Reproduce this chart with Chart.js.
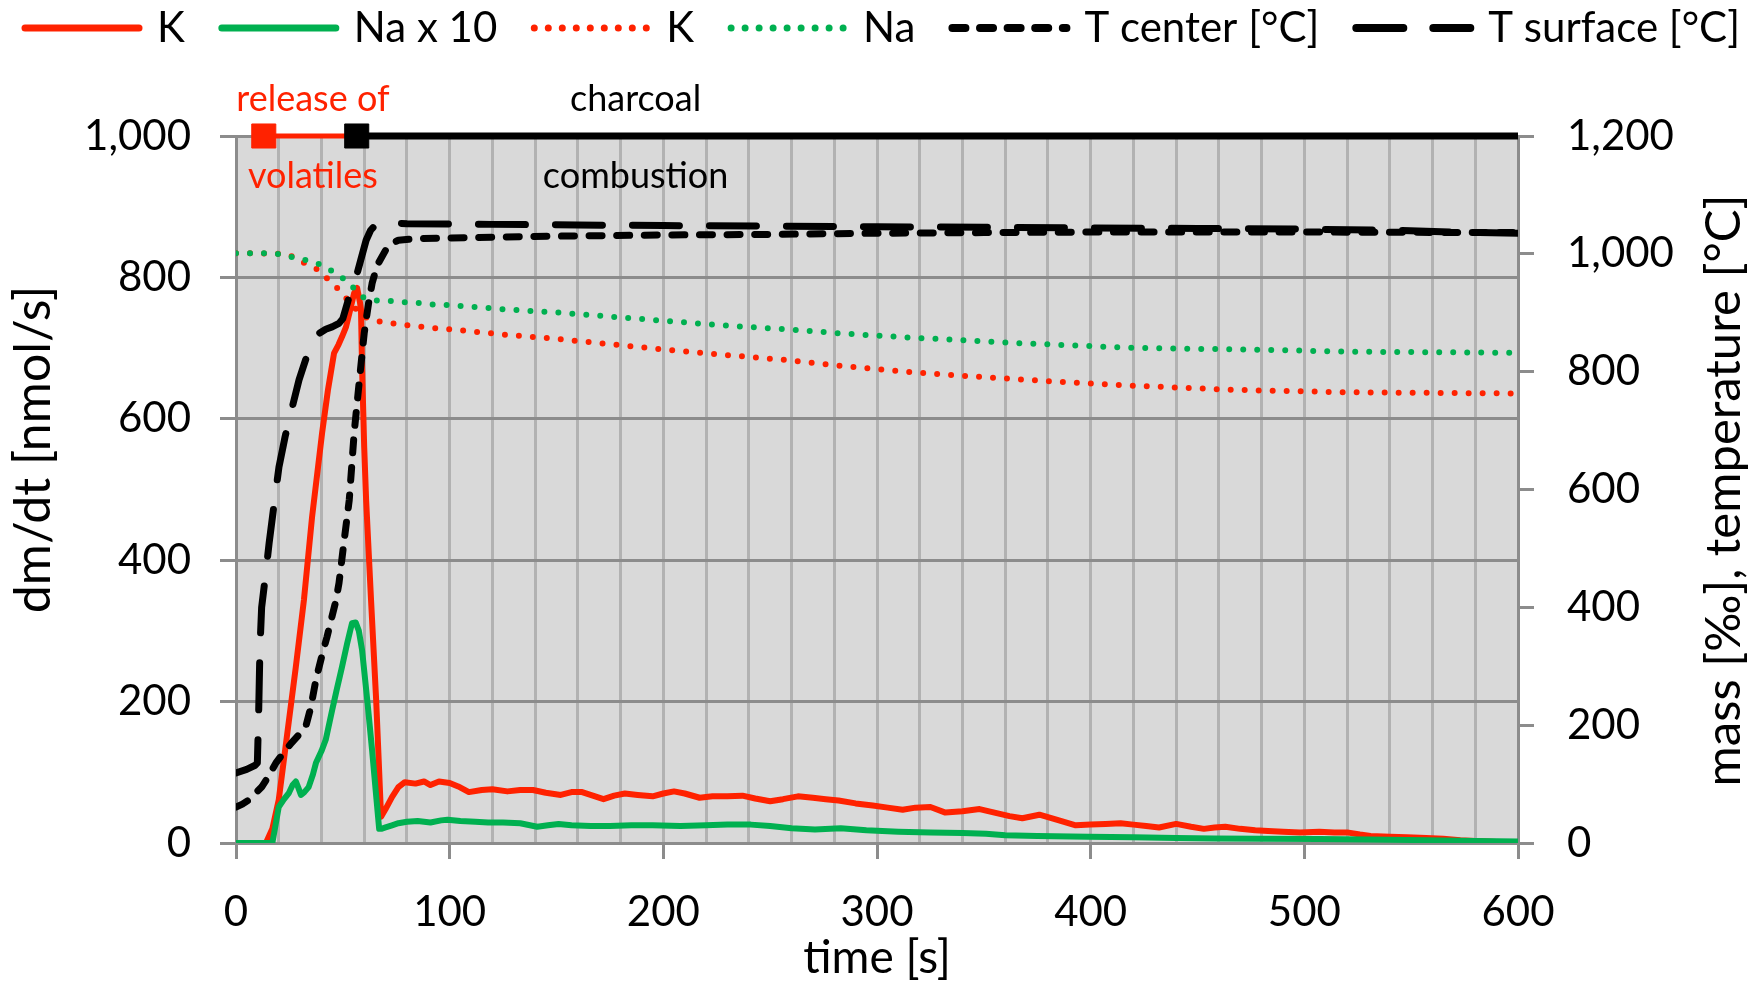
<!DOCTYPE html>
<html lang="pt-BR">
<head>
<meta charset="UTF-8">
<title>Liberação de K e Na</title>
<script src="https://cdn.jsdelivr.net/npm/chart.js@4.4.1/dist/chart.umd.min.js"></script>
<style>
    html, body { margin: 0; padding: 0; background: #ffffff; }
    #grafico-wrap { width: 1761px; height: 981px; }
</style>
</head>
<body>
<div id="grafico-wrap">
    <canvas id="grafico-liberacao" width="1761" height="981"></canvas>
</div>
<script>
// Dados (tempo em s)

// Taxa de liberação de K - eixo esquerdo [nmol/s]
const tempoTaxaK = [0, 14, 17, 20, 23.4, 28, 31.8, 35.6, 40.3, 43, 45.9, 48, 49.6, 51.5, 53.5, 55.3, 56.7, 58, 58.5, 59,
    60, 60.9, 63.2, 65.6, 67.9, 70, 73, 76, 79, 84, 88, 91, 95, 100, 104, 109, 115, 120, 127, 133,
    139, 145, 152, 157, 162, 167, 172, 177, 182, 188, 195, 200, 205, 210, 217, 223, 230, 237, 243, 250,
    256, 263, 270, 276, 282, 290, 298, 305, 312, 318, 325, 332, 340, 348, 355, 362, 368, 376, 384, 393,
    400, 407, 414, 420, 426, 432, 440, 447, 453, 458, 463, 470, 477, 483, 490, 498, 507, 514, 520, 526,
    531, 540, 548, 557, 565, 573, 580, 590, 600];
const taxaK = [0, 0, 20, 61, 141, 249, 344, 461, 580, 640, 693, 705, 716, 730, 755, 778, 785, 765, 754, 673,
    560, 485, 344, 202, 37, 48, 65, 79, 86, 84, 87, 82, 87, 85, 80, 72, 75, 76, 73, 75,
    75, 71, 68, 72, 72, 67, 62, 67, 70, 68, 66, 70, 73, 70, 64, 66, 66, 67, 63, 59,
    62, 66, 64, 62, 60, 56, 53, 50, 47, 50, 51, 43, 45, 48, 43, 38, 35, 40, 33, 25,
    26, 27, 28, 26, 24, 22, 27, 23, 20, 22, 23, 20, 18, 17, 16, 15, 16, 15, 15, 12,
    10, 9, 8, 7, 6, 4, 3, 1.5, 1];

// Taxa de liberação de Na x 10 - eixo esquerdo [nmol/s]
const tempoTaxaNa = [0, 17, 18.5, 20, 22.5, 24.8, 26.5, 28, 29.2, 30.4, 32, 34, 36, 37.4, 40, 42, 45, 47, 49.6, 52,
    54.3, 56, 57.5, 59, 61.5, 63.7, 65.5, 67, 68, 70, 73, 76, 80, 85, 91, 96, 99, 105, 112, 118,
    125, 133, 141, 146, 151, 157, 166, 175, 185, 195, 208, 220, 230, 241, 250, 260, 271, 283, 295, 310,
    325, 340, 351, 360, 375, 399, 420, 440, 458, 480, 507, 530, 557, 580, 600];
const taxaNa = [0, 0, 25, 51, 62, 71, 82, 87, 78, 68, 72, 79, 97, 113, 130, 146, 188, 215, 249, 282,
    311, 312, 300, 273, 200, 131, 70, 20, 20, 22, 25, 28, 30, 31, 29, 32, 33, 31, 30, 29,
    29, 28, 23, 25, 27, 25, 24, 24, 25, 25, 24, 25, 26, 26, 24, 21, 19, 21, 18, 16,
    15, 14, 13, 11, 10, 9, 8, 7, 6.5, 6, 5.5, 5, 4, 3, 2];

// Massa remanescente de K - eixo direito [‰]
const tempoMassaK = [0, 10, 20, 25, 31, 37.5, 42.7, 47.4, 51.5, 55.3, 58, 61.4, 65, 67.9, 75, 80, 92.7, 100,
    125, 152, 180, 205, 230, 257, 283, 310, 336, 362, 389, 415, 441, 468, 494, 520, 560, 600];
const massaK = [1001, 1001, 1000, 998, 986, 975, 958, 942, 925, 910, 898, 891, 886, 885, 881, 879, 874, 872,
    863, 855, 845, 836, 828, 820, 810, 801, 794, 788, 782, 777, 773, 769, 767, 765, 764, 763];

// Massa remanescente de Na - eixo direito [‰]
const tempoMassaNa = [0, 12, 19, 25.6, 32, 38, 44.3, 49.6, 54.5, 59.2, 62, 65.6, 72.5, 78.6, 84.8, 92, 100,
    125, 152, 180, 205, 230, 257, 283, 310, 336, 362, 389, 415, 441, 468, 494, 520, 560, 600];
const massaNa = [1001, 1001, 1000, 995, 990, 984, 972, 960, 944, 927, 923, 921, 920, 918, 917, 914, 913,
    906, 900, 892, 885, 878, 872, 865, 859, 854, 849, 845, 841, 839, 838, 836, 834, 833, 832];

// Temperatura no centro - eixo direito [°C]
const tempoTCentro = [0, 3, 6, 9, 12, 15, 18.7, 22, 26, 29, 32.6, 35, 37.4, 40, 42.6, 46.8, 48.2, 50.5, 53,
    55.3, 57.6, 60, 62, 63.7, 66, 70, 73, 76, 85, 100, 150, 200, 250, 300, 350, 400, 500, 600];
const tCentro = [61, 66, 73, 84, 95, 112, 136, 152, 170, 182, 197, 230, 277, 315, 350, 412, 441, 510, 582,
    696, 780, 865, 915, 950, 980, 1006, 1018, 1023, 1026, 1027, 1030, 1032, 1033, 1035, 1036, 1037, 1037, 1036];

// Temperatura na superfície - eixo direito [°C]
const tempoTSuperficie = [0, 5, 9, 10, 10.6, 11.2, 12, 14, 15.5, 18, 20.1, 23, 26, 29.5, 33, 36, 38.9, 42, 45,
    48.2, 50, 52, 54, 56.7, 58.8, 60.9, 63, 65, 67, 72, 80, 120, 160, 200, 250, 300, 350, 400, 450, 500,
    540, 570, 600];
const tSuperficie = [119, 125, 132, 136, 220, 330, 400, 460, 509, 580, 638, 690, 735, 786, 825, 848, 865, 872, 876,
    882, 890, 915, 940, 967, 995, 1023, 1040, 1048, 1052, 1053, 1051, 1050, 1049, 1048, 1047, 1046, 1045, 1044, 1043, 1042,
    1040, 1037, 1035];

// Fases da combustão (marcadores no topo, em 1,000 nmol/s)
const tempoVolateis = [13, 56.5];
const tempoCarvao = [56.5, 600];
const nivelFases = 1000;

// Textos das fases
const textosFases = [
    { texto: 'release of', tempo: 36, dy: -37, cor: '#ff2200' },
    { texto: 'volatiles', tempo: 36, dy: 40, cor: '#ff2200' },
    { texto: 'charcoal', tempo: 187, dy: -37, cor: '#000000' },
    { texto: 'combustion', tempo: 187, dy: 40, cor: '#000000' }
];

// Títulos dos eixos verticais (os dois lidos de baixo para cima)
const tituloEsquerdo = 'dm/dt [nmol/s]';
const tituloDireito = 'mass [‰], temperature [°C]';

const VERMELHO = '#ff2200';
const VERDE = '#00b050';
const CINZA_GRADE = '#8c8c8c';
const CINZA_VERTICAL = '#b2b2b2';

// Junta tempo e valor em pontos {x, y}
function montarPontos(tempos, valores) {
    return tempos.map((t, i) => ({ x: t, y: valores[i] }));
}

// Plugin: fundo cinza da área do gráfico
const fundoArea = {
    id: 'fundoArea',
    beforeDraw(chart) {
        const { ctx, chartArea } = chart;
        ctx.save();
        ctx.fillStyle = '#d9d9d9';
        ctx.fillRect(chartArea.left, chartArea.top, chartArea.right - chartArea.left, chartArea.bottom - chartArea.top);
        ctx.restore();
    }
};

// Plugin: legenda em linha no topo, textos das fases e títulos verticais
const legendaETextos = {
    id: 'legendaETextos',
    afterDraw(chart) {
        const { ctx, chartArea } = chart;
        const escalaX = chart.scales.x;
        const meioY = (chartArea.top + chartArea.bottom) / 2;
        ctx.save();

        // textos das fases
        ctx.font = '36px Lato';
        ctx.textAlign = 'center';
        ctx.textBaseline = 'middle';
        textosFases.forEach(item => {
            ctx.fillStyle = item.cor;
            ctx.fillText(item.texto, escalaX.getPixelForValue(item.tempo), chartArea.top + item.dy);
        });

        // títulos verticais, girados -90°
        ctx.fillStyle = '#000000';
        ctx.font = '50px Lato';
        ctx.save();
        ctx.translate(34, meioY - 40);
        ctx.rotate(-Math.PI / 2);
        ctx.fillText(tituloEsquerdo, 0, 0);
        ctx.restore();
        ctx.font = '49px Lato';
        ctx.save();
        ctx.translate(chart.width - 37, meioY + 1);
        ctx.rotate(-Math.PI / 2);
        ctx.fillText(tituloDireito, 0, 0);
        ctx.restore();

        // legenda
        const itens = chart.data.datasets.filter(ds => ds.label);
        const compLinha = 122;
        const espacoTexto = 14;
        const espacoItem = 33;
        const y = 28;
        ctx.font = '42px Lato';
        ctx.textAlign = 'left';
        let larguraTotal = espacoItem * (itens.length - 1);
        itens.forEach(ds => {
            larguraTotal += compLinha + espacoTexto + ctx.measureText(ds.label).width;
        });
        let x = (chart.width - larguraTotal) / 2;
        itens.forEach(ds => {
            ctx.beginPath();
            ctx.setLineDash(ds.borderDash || []);
            ctx.lineCap = 'round';
            ctx.lineWidth = ds.borderWidth + 1;
            ctx.strokeStyle = ds.borderColor;
            ctx.moveTo(x + 4, y);
            ctx.lineTo(x + compLinha - 4, y);
            ctx.stroke();
            ctx.setLineDash([]);
            ctx.fillStyle = '#000000';
            ctx.fillText(ds.label, x + compLinha + espacoTexto, y);
            x += compLinha + espacoTexto + ctx.measureText(ds.label).width + espacoItem;
        });
        ctx.restore();
    }
};

function criarGrafico() {
    const ctx = document.getElementById('grafico-liberacao').getContext('2d');

    Chart.defaults.font.family = "Lato, 'Open Sans', sans-serif";
    Chart.defaults.color = '#000000';

    const linhaBase = {
        fill: false,
        tension: 0,
        pointRadius: 0,
        pointHoverRadius: 0,
        borderJoinStyle: 'round',
        borderCapStyle: 'round'
    };

    return new Chart(ctx, {
        type: 'line',
        data: {
            datasets: [
                {
                    ...linhaBase,
                    label: 'K',
                    data: montarPontos(tempoTaxaK, taxaK),
                    yAxisID: 'y',
                    borderColor: VERMELHO,
                    borderWidth: 6,
                    order: 6
                },
                {
                    ...linhaBase,
                    label: 'Na x 10',
                    data: montarPontos(tempoTaxaNa, taxaNa),
                    yAxisID: 'y',
                    borderColor: VERDE,
                    borderWidth: 6,
                    order: 5
                },
                {
                    ...linhaBase,
                    label: 'K',
                    data: montarPontos(tempoMassaK, massaK),
                    yAxisID: 'y1',
                    borderColor: VERMELHO,
                    borderWidth: 6,
                    borderDash: [0, 14],
                    order: 4
                },
                {
                    ...linhaBase,
                    label: 'Na',
                    data: montarPontos(tempoMassaNa, massaNa),
                    yAxisID: 'y1',
                    borderColor: VERDE,
                    borderWidth: 6,
                    borderDash: [0, 14],
                    order: 3
                },
                {
                    ...linhaBase,
                    label: 'T center [°C]',
                    data: montarPontos(tempoTCentro, tCentro),
                    yAxisID: 'y1',
                    borderColor: '#000000',
                    borderWidth: 7,
                    borderDash: [13, 14.6],
                    order: 2
                },
                {
                    ...linhaBase,
                    label: 'T surface [°C]',
                    data: montarPontos(tempoTSuperficie, tSuperficie),
                    yAxisID: 'y1',
                    borderColor: '#000000',
                    borderWidth: 7,
                    borderDash: [47, 30],
                    order: 1
                },
                // fases (sem legenda)
                {
                    data: tempoVolateis.map(t => ({ x: t, y: nivelFases })),
                    yAxisID: 'y',
                    borderColor: VERMELHO,
                    backgroundColor: VERMELHO,
                    borderWidth: 5,
                    pointStyle: 'rect',
                    pointRadius: [17, 0],
                    pointBorderWidth: 1,
                    pointHoverRadius: 0,
                    clip: false,
                    order: 0
                },
                {
                    data: tempoCarvao.map(t => ({ x: t, y: nivelFases })),
                    yAxisID: 'y',
                    borderColor: '#000000',
                    backgroundColor: '#000000',
                    borderWidth: 7,
                    pointStyle: 'rect',
                    pointRadius: [17, 0],
                    pointBorderWidth: 1,
                    pointHoverRadius: 0,
                    clip: false,
                    order: -1
                }
            ]
        },
        options: {
            responsive: false,
            animation: false,
            devicePixelRatio: 1,
            layout: {
                padding: { top: 136, left: 0, right: 0, bottom: 0 }
            },
            plugins: {
                legend: { display: false },
                tooltip: { enabled: false }
            },
            scales: {
                x: {
                    type: 'linear',
                    min: 0,
                    max: 600,
                    afterFit: escala => { escala.height = 138; },
                    ticks: {
                        stepSize: 20,
                        autoSkip: false,
                        maxRotation: 0,
                        padding: 28,
                        font: { size: 42 },
                        callback: v => (Math.round(v) % 100 === 0 ? Math.round(v) : '')
                    },
                    grid: {
                        color: CINZA_VERTICAL,
                        lineWidth: 3,
                        tickLength: 16,
                        tickWidth: 3,
                        tickColor: c => (c.tick && Math.round(c.tick.value) % 100 === 0 ? CINZA_GRADE : 'rgba(0,0,0,0)')
                    },
                    border: { color: CINZA_GRADE, width: 3 },
                    title: {
                        display: true,
                        text: 'time [s]',
                        font: { size: 46, lineHeight: 1 },
                        padding: { top: 0, bottom: 0 }
                    }
                },
                y: {
                    type: 'linear',
                    position: 'left',
                    min: 0,
                    max: 1000,
                    afterFit: escala => { escala.width = 236; },
                    ticks: {
                        stepSize: 200,
                        padding: 29,
                        font: { size: 42 },
                        callback: v => v.toLocaleString('en-US')
                    },
                    grid: { color: CINZA_GRADE, lineWidth: 3, tickLength: 16 },
                    border: { color: CINZA_GRADE, width: 3 }
                },
                y1: {
                    type: 'linear',
                    position: 'right',
                    min: 0,
                    max: 1200,
                    afterFit: escala => { escala.width = 243; },
                    ticks: {
                        stepSize: 200,
                        padding: 33,
                        font: { size: 42 },
                        callback: v => v.toLocaleString('en-US')
                    },
                    grid: { drawOnChartArea: false, color: CINZA_GRADE, lineWidth: 3, tickLength: 16 },
                    border: { color: CINZA_GRADE, width: 3 }
                }
            }
        },
        plugins: [fundoArea, legendaETextos]
    });
}

criarGrafico();
</script>
</body>
</html>
